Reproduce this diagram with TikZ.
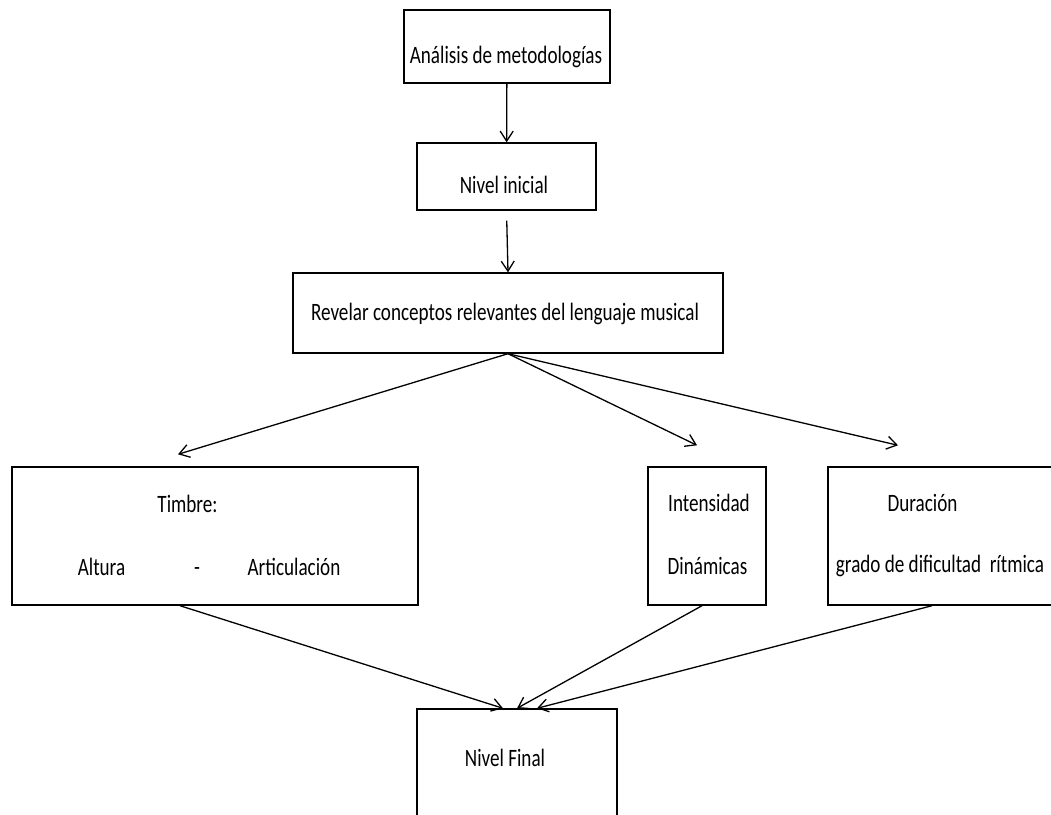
\documentclass[tikz,border=0pt]{standalone}
\usepackage{fontspec}
\setmainfont[FakeStretch=0.765]{Carlito}
\usetikzlibrary{arrows.meta, positioning}

\begin{document}
\begin{tikzpicture}[
    x=1pt, y=-1pt,
    stagebox/.style={rectangle, draw, line width=1.4pt, inner sep=0pt},
    stagetext/.style={anchor=base, inner sep=0pt, font=\fontsize{25}{30}\selectfont},
    flow/.style={-{Straight Barb[length=10pt, width=13pt]}, line width=1.3pt}
]

\path[use as bounding box, fill=white] (0,0) rectangle (1051,814);

% Top chain
\node[stagebox, minimum width=206pt, minimum height=73pt] (analisis) at (507,46.5) {};
\node[stagetext] (analisis-t) at (506,63) {Análisis de metodologías};
\node[stagebox, minimum width=179pt, minimum height=67pt] (inicial) at (506.5,176.5) {};
\node[stagetext] (inicial-t) at (504,193) {Nivel inicial};
\node[stagebox, minimum width=430pt, minimum height=80pt] (revelar) at (508,313) {};
\node[stagetext] (revelar-t) at (505,320) {Revelar conceptos relevantes del lenguaje musical};

% Timbre box
\node[stagebox, minimum width=406pt, minimum height=138pt] (timbre) at (215,536) {};
\node[stagetext] (timbre-t) at (187.5,512) {Timbre:};
\node[stagetext] (altura-t) at (101.5,575) {Altura};
\node[stagetext] (guion-t) at (197,575) {-};
\node[stagetext] (artic-t) at (294,575) {Articulación};

% Intensidad box
\node[stagebox, minimum width=118pt, minimum height=138pt] (intens) at (707,536) {};
\node[stagetext] (intens-t) at (709,511) {Intensidad};
\node[stagetext] (dinam-t) at (707.5,574) {Dinámicas};

% Duracion box
\node[stagebox, minimum width=252pt, minimum height=138pt] (durac) at (954,536) {};
\node[stagetext] (durac-t) at (922.5,511) {Duración};
\node[stagetext] (grado-t) at (940,572) {grado de dificultad\ \ rítmica};

% Final box
\node[stagebox, minimum width=200pt, minimum height=131pt] (final) at (517,774.5) {};
\node[stagetext] (final-t) at (505,766) {Nivel Final};

% Arrows
\draw[flow] (analisis) -- (inicial);
\draw[flow, shorten <=10pt] (inicial.south) -- (revelar.north);
\draw[flow] (revelar.south) -- ([xshift=-37pt, yshift=12pt]timbre.north);
\draw[flow] (revelar.south) -- ([xshift=-10pt, yshift=21pt]intens.north);
\draw[flow] (revelar.south) -- ([xshift=-56pt, yshift=21pt]durac.north);
\draw[flow] ([xshift=-35pt]timbre.south) -- ([xshift=-14pt]final.north);
\draw[flow] ([xshift=-5pt]intens.south) -- (final.north);
\draw[flow] ([xshift=-22pt]durac.south) -- ([xshift=20pt]final.north);

\end{tikzpicture}
\end{document}
